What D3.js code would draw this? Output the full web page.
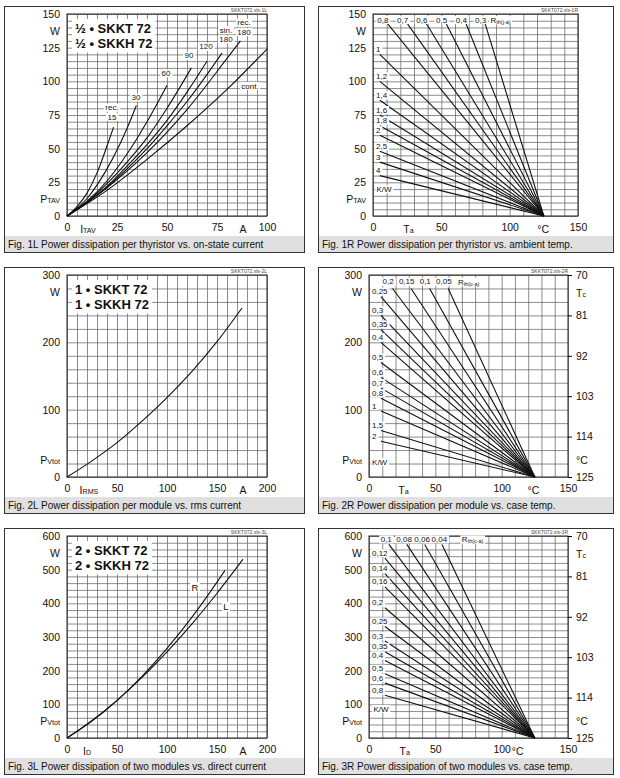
<!DOCTYPE html>
<html>
<head>
<meta charset="utf-8">
<script src="https://cdn.jsdelivr.net/npm/d3@7/dist/d3.min.js"></script>
<style>
  body { margin: 0; background: #fff; }
  text { font-family: "Liberation Sans", Arial, sans-serif; fill: #111; }
</style>
</head>
<body>
<script>

// Fig. 1L  P_TAV [W] vs I_TAV [A]
var f1L_rec15  = [[0,0],[5,7],[10,17],[15,32],[20,52],[23.3,66]];
var f1L_30     = [[0,0],[10,13],[20,35],[30,65],[34.7,82]];
var f1L_60     = [[0,0],[10,11],[20,26],[30,46],[40,70],[50,97]];
var f1L_90     = [[0,0],[10,10.4],[20,24],[30,40],[40,58],[50,80],[62.2,110]];
var f1L_120    = [[0,0],[10,10],[20,22],[30,37],[40,53],[50,71],[60,92],[70,115]];
var f1L_sin180 = [[0,0],[10,9.9],[20,21.5],[30,35],[40,50],[50,67],[60,85],[77.5,121]];
var f1L_rec180 = [[0,0],[20,21],[40,47],[60,79],[80,117],[86.7,130]];
var f1L_cont   = [[0,0],[20,19],[40,42],[60,67],[80,94],[100,124]];
var f1L_labels = [["rec.",22.5,80.5],["15",22.5,73.5],["30",34.5,88],["60",49.5,106],["90",61,119],
                  ["120",69.5,125.5],["sin.",79.5,138],["180",79.5,131],["rec.",88.5,143.5],
                  ["180",88.5,136.5],["cont.",91.5,96.5]];

// Fig. 1R  P_TAV [W] vs T_a [°C], one line per R_th(j-a), all ending at 125 °C / 0 W
var f1R_names   = ["0,8","0,7","0,6","0,5","0,4","0,3","1","1,2","1,4","1,6","1,8","2","2,5","3","4"];
var f1R_startTa = [10.5,25,39,53.5,68,82,5,5,5,5,5,5,5,5,5];
var f1R_startP  = [143,143,143,143,143,143,120,100,86,75,67,60,48,40,30];

// Fig. 2L  P_Vtot [W] vs I_RMS [A]
var f2L_curve = [[0,0],[25,24],[50,51],[75,83],[100,118],[125,157],[150,201],[175,251]];

// Fig. 2R  P_Vtot [W] vs T_a [°C], one line per R_th(c-a)
var f2R_names   = ["0,2","0,15","0,1","0,05","0,25","0,3","0,35","0,4","0,5","0,6","0,7","0,8","1","1,5","2"];
var f2R_startTa = [17.7,31.7,45.7,59.7,9,9,9,9,9,9,9,9,9,9,9];
var f2R_startP  = [280,280,280,280,268,240,219,200,170,148,132,117,98,69,53];

// Fig. 3L  P_Vtot [W] vs I_D [A]
var f3L_R = [[0,0],[25,50],[50,111],[75,183],[100,266],[125,359],[150,463],[158,498]];
var f3L_L = [[0,0],[25,52],[50,112],[75,180],[100,256],[125,339],[150,430],[176,531]];

// Fig. 3R  P_Vtot [W] vs T_a [°C], one line per R_th(c-a)
var f3R_names   = ["0,1","0,08","0,06","0,04","0,12","0,14","0,16","0,2","0,25","0,3","0,35","0,4","0,5","0,6","0,8"];
var f3R_startTa = [15,28.5,42,55,12,12,12,12,12,12,12,12,12,12,12];
var f3R_startP  = [575,575,575,575,534,488,449,387,331,288,256,230,191,163,127];

var tjEnd = 125;
var tcTicks = [70, 81, 92, 103, 114, 125];

var svg = d3.select("body").append("svg").attr("width", 620).attr("height", 778);

function addText(t, parts) {
  if (typeof parts === "string") { t.text(parts); return; }
  t.append("tspan").text(parts[0]);
  t.append("tspan").attr("font-size", "68%").attr("dy", "0.35em").text(parts[1]);
}

function boxed(g, x, y, parts, size, anchor) {
  var t = g.append("text").attr("x", x).attr("y", y).attr("font-size", size)
    .attr("text-anchor", anchor || "middle").attr("dominant-baseline", "central");
  addText(t, parts);
  var b = t.node().getBBox();
  g.insert("rect", function() { return t.node(); })
    .attr("x", b.x - 1.5).attr("y", b.y + 0.5).attr("width", b.width + 3).attr("height", b.height - 1)
    .attr("fill", "#fff");
  return t;
}

function panel(p) {
  var g = svg.append("g");
  var bx = p.box[0], by = p.box[1], bw = p.box[2];
  g.append("rect").attr("x", bx + 0.5).attr("y", by + 0.5).attr("width", bw).attr("height", 246)
    .attr("fill", "#fff").attr("stroke", "#333");
  g.append("rect").attr("x", bx + 1).attr("y", by + 230).attr("width", bw - 1).attr("height", 16)
    .attr("fill", "#e0e0e0");
  g.append("text").attr("x", bx + 4).attr("y", by + 242).attr("font-size", 10).text(p.caption);

  var x0 = p.plot[0], x1 = p.plot[0] + p.plot[2], y1 = p.plot[1], y0 = p.plot[1] + 202;
  var x = d3.scaleLinear().domain(p.xDom).range([x0, x1]);
  var y = d3.scaleLinear().domain(p.yDom).range([y0, y1]);

  // grid
  g.append("g").attr("transform", "translate(0," + y0 + ")")
    .call(d3.axisBottom(x).tickValues(d3.range(p.xDom[0], p.xDom[1] + 0.01, p.xStep)).tickSize(-202).tickFormat(""))
    .call(function(a) { a.select(".domain").remove(); a.selectAll("line").attr("stroke", "#666").attr("stroke-width", 0.75); });
  g.append("g").attr("transform", "translate(" + x0 + ",0)")
    .call(d3.axisLeft(y).tickValues(d3.range(p.yDom[0], p.yDom[1] + 0.01, p.yStep)).tickSize(-(x1 - x0)).tickFormat(""))
    .call(function(a) { a.select(".domain").remove(); a.selectAll("line").attr("stroke", "#666").attr("stroke-width", 0.75); });
  g.append("rect").attr("x", x0).attr("y", y1).attr("width", x1 - x0).attr("height", 202)
    .attr("fill", "none").attr("stroke", "#222").attr("stroke-width", 1);

  // tick labels
  g.append("g").attr("transform", "translate(" + x0 + ",0)")
    .call(d3.axisLeft(y).tickValues(p.yTicks).tickSize(0).tickPadding(7))
    .call(function(a) { a.select(".domain").remove(); a.attr("font-size", 10.5).attr("font-family", null); });
  g.append("g").attr("transform", "translate(0," + y0 + ")")
    .call(d3.axisBottom(x).tickValues(p.xTicks).tickSize(0).tickPadding(8))
    .call(function(a) { a.select(".domain").remove(); a.attr("font-size", 10.5).attr("font-family", null); });

  g.append("text").attr("x", x0 - 7).attr("y", y1 + 17).attr("font-size", 10.5)
    .attr("text-anchor", "end").attr("dominant-baseline", "central").text("W");
  addText(g.append("text").attr("x", x0 - 7).attr("y", y0 - 17).attr("font-size", 10.5)
    .attr("text-anchor", "end").attr("dominant-baseline", "central"), p.yName);
  addText(g.append("text").attr("x", x(p.xNameAt)).attr("y", y0 + 12.5).attr("font-size", 10.5)
    .attr("text-anchor", "middle").attr("dominant-baseline", "central"), p.xName);
  g.append("text").attr("x", x(p.xUnitAt)).attr("y", y0 + 12.5).attr("font-size", 10.5)
    .attr("text-anchor", "middle").attr("dominant-baseline", "central").text(p.xUnit);

  g.append("text").attr("x", x1).attr("y", y1 - 2.5).attr("font-size", 5).attr("text-anchor", "end")
    .style("fill", "#444").text(p.file);

  if (p.tc) {
    var tc = d3.scaleLinear().domain([125, 70]).range([y0, y1]);
    g.append("g").attr("transform", "translate(" + x1 + ",0)")
      .call(d3.axisRight(tc).tickValues(tcTicks).tickSize(4).tickPadding(4))
      .call(function(a) { a.select(".domain").remove(); a.attr("font-size", 10.5).attr("font-family", null); });
    addText(g.append("text").attr("x", x1 + 8).attr("y", y1 + 18).attr("font-size", 10.5)
      .attr("dominant-baseline", "central"), ["T", "c"]);
    g.append("text").attr("x", x1 + 8).attr("y", y0 - 17).attr("font-size", 10.5)
      .attr("dominant-baseline", "central").text("°C");
  }

  var line = d3.line().x(function(d) { return x(d[0]); }).y(function(d) { return y(d[1]); });
  var lg = g.append("g").attr("fill", "none").attr("stroke", "#111").attr("stroke-width", 1.1);
  (p.curves || []).forEach(function(c) {
    lg.append("path").attr("d", line.curve(d3.curveMonotoneX)(c));
  });
  if (p.rLines) {
    var r = p.rLines;
    r.names.forEach(function(n, i) {
      lg.append("path").attr("d", line.curve(d3.curveLinear)([[r.ta[i], r.p[i]], [tjEnd, 0]]));
    });
    var lab = g.append("g");
    r.names.forEach(function(n, i) {
      if (i < r.nTop) boxed(lab, x(r.ta[i] - r.topOff), y(r.topP), n, 8, "middle");
      else boxed(lab, x0 + 3, y(r.p[i]) - 5, n, 8, "start");
    });
    boxed(lab, x(r.rAt), y(r.topP), ["R", r.rSub], 8, "start");
    boxed(lab, x(r.kw[0]), y(r.kw[1]), "K/W", 8, "middle");
  }
  (p.labels || []).forEach(function(l) { boxed(g, x(l[1]), y(l[2]), l[0], l[3] || 8, "middle"); });

  if (p.title) {
    var tg = g.append("g");
    var ts = p.title.map(function(s, i) {
      return tg.append("text").attr("x", x0 + 8).attr("y", y1 + 14 + i * 15.5).attr("font-size", 13)
        .attr("font-weight", "bold").attr("dominant-baseline", "central").text(s);
    });
    var b0 = ts[0].node().getBBox(), b1 = ts[1].node().getBBox();
    var bxl = Math.min(b0.x, b1.x) - 3, bxr = Math.max(b0.x + b0.width, b1.x + b1.width) + 3;
    tg.insert("rect", "text").attr("x", bxl).attr("y", b0.y - 1.5).attr("width", bxr - bxl)
      .attr("height", b1.y + b1.height - b0.y + 3).attr("fill", "#fff");
  }
}

var LB = [4, 6, 300], RB = [318, 6, 295], rowStep = 261;

panel({
  box: LB, plot: [67, 14, 200], caption: "Fig. 1L Power dissipation per thyristor vs. on-state current",
  file: "SKKT072.xls-1L", xDom: [0, 100], yDom: [0, 150], xStep: 5, yStep: 5,
  xTicks: [0, 25, 50, 75, 100], yTicks: [0, 25, 50, 75, 100, 125, 150],
  yName: ["P", "TAV"], xName: ["I", "TAV"], xNameAt: 10.5, xUnit: "A", xUnitAt: 88,
  curves: [f1L_rec15, f1L_30, f1L_60, f1L_90, f1L_120, f1L_sin180, f1L_rec180, f1L_cont],
  labels: f1L_labels, title: ["½ • SKKT 72", "½ • SKKH 72"]
});
panel({
  box: RB, plot: [373, 14, 205], caption: "Fig. 1R Power dissipation per thyristor vs. ambient temp.",
  file: "SKKT072.xls-1R", xDom: [0, 150], yDom: [0, 150], xStep: 10, yStep: 5,
  xTicks: [0, 50, 100, 150], yTicks: [0, 25, 50, 75, 100, 125, 150],
  yName: ["P", "TAV"], xName: ["T", "a"], xNameAt: 26, xUnit: "°C", xUnitAt: 124.5,
  rLines: { names: f1R_names, ta: f1R_startTa, p: f1R_startP, nTop: 6, topP: 145.5, topOff: 3.3,
            rAt: 86, rSub: "th(j-a)", kw: [8, 20] }
});
panel({
  box: [LB[0], LB[1] + rowStep, LB[2]], plot: [67, 14 + rowStep, 200],
  caption: "Fig. 2L Power dissipation per module vs. rms current",
  file: "SKKT072.xls-2L", xDom: [0, 200], yDom: [0, 300], xStep: 10, yStep: 20,
  xTicks: [0, 50, 100, 150, 200], yTicks: [0, 100, 200, 300],
  yName: ["P", "Vtot"], xName: ["I", "RMS"], xNameAt: 22, xUnit: "A", xUnitAt: 176,
  curves: [f2L_curve], title: ["1 • SKKT 72", "1 • SKKH 72"]
});
panel({
  box: [RB[0], RB[1] + rowStep, RB[2]], plot: [369, 14 + rowStep, 199],
  caption: "Fig. 2R Power dissipation per module vs. case temp.",
  file: "SKKT072.xls-2R", xDom: [0, 150], yDom: [0, 300], xStep: 10, yStep: 20, tc: true,
  xTicks: [0, 50, 100, 150], yTicks: [0, 100, 200, 300],
  yName: ["P", "Vtot"], xName: ["T", "a"], xNameAt: 26, xUnit: "°C", xUnitAt: 124,
  rLines: { names: f2R_names, ta: f2R_startTa, p: f2R_startP, nTop: 4, topP: 290, topOff: 3.3,
            rAt: 67, rSub: "th(c-a)", kw: [8, 22] }
});
panel({
  box: [LB[0], LB[1] + 2 * rowStep, LB[2]], plot: [67, 14 + 2 * rowStep, 200],
  caption: "Fig. 3L Power dissipation of two modules vs. direct current",
  file: "SKKT072.xls-3L", xDom: [0, 200], yDom: [0, 600], xStep: 10, yStep: 20,
  xTicks: [0, 50, 100, 150, 200], yTicks: [0, 100, 200, 300, 400, 500, 600],
  yName: ["P", "Vtot"], xName: ["I", "D"], xNameAt: 20, xUnit: "A", xUnitAt: 176,
  curves: [f3L_R, f3L_L], labels: [["R", 128, 448, 9.5], ["L", 159, 390, 9.5]],
  title: ["2 • SKKT 72", "2 • SKKH 72"]
});
panel({
  box: [RB[0], RB[1] + 2 * rowStep, RB[2]], plot: [369, 14 + 2 * rowStep, 199],
  caption: "Fig. 3R Power dissipation of two modules vs. case temp.",
  file: "SKKT072.xls-3R", xDom: [0, 150], yDom: [0, 600], xStep: 10, yStep: 20, tc: true,
  xTicks: [0, 50, 100, 150], yTicks: [0, 100, 200, 300, 400, 500, 600],
  yName: ["P", "Vtot"], xName: ["T", "a"], xNameAt: 27, xUnit: "°C", xUnitAt: 112,
  rLines: { names: f3R_names, ta: f3R_startTa, p: f3R_startP, nTop: 4, topP: 590, topOff: 2,
            rAt: 70, rSub: "th(c-a)", kw: [9, 86] }
});
</script>
</body>
</html>
